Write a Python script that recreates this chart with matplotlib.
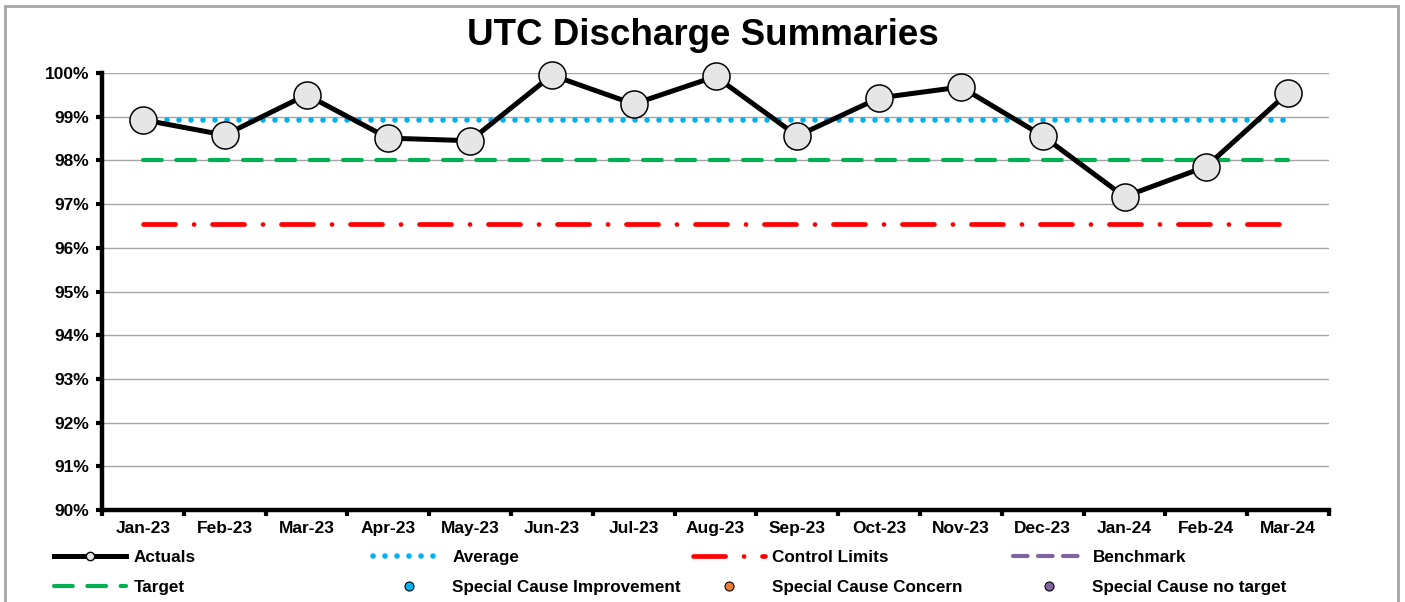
import numpy as np
import matplotlib
matplotlib.use("Agg")
import matplotlib.pyplot as plt
from matplotlib.lines import Line2D
from matplotlib.patches import Rectangle
from matplotlib.ticker import FixedLocator, FuncFormatter

plt.rcParams["font.family"] = ["Liberation Sans", "DejaVu Sans"]
plt.rcParams["font.weight"] = "bold"

# data
months = ["Jan-23", "Feb-23", "Mar-23", "Apr-23", "May-23", "Jun-23", "Jul-23",
          "Aug-23", "Sep-23", "Oct-23", "Nov-23", "Dec-23", "Jan-24", "Feb-24",
          "Mar-24"]
actuals = [98.93, 98.58, 99.50, 98.51, 98.45, 99.95, 99.29, 99.92, 98.56,
           99.43, 99.68, 98.56, 97.17, 97.86, 99.55]
average = 98.92
target = 98.0
lower_control = 96.54

W, H = 1405, 602
fig = plt.figure(figsize=(W / 100, H / 100), dpi=100)
ax = fig.add_axes([102 / W, 1 - 510 / H, (1329 - 102) / W, (510 - 73) / H])

x = np.arange(len(months))
n = len(months)

AVG_STYLE = dict(color="#00B0F0", linewidth=4.0, linestyle=(0, (0.01, 2.15)),
                 dash_capstyle="round")
TGT_STYLE = dict(color="#00B050", linewidth=3.0, linestyle=(0, (4.5, 3.5)),
                 dash_capstyle="round")
CL_STYLE = dict(color="#FF0000", linewidth=3.4,
                linestyle=(0, (6.8, 3.9, 0.01, 3.9)), dash_capstyle="round")

ax.plot(x, [average] * n, zorder=3, **AVG_STYLE)
ax.plot(x, [target] * n, zorder=3, **TGT_STYLE)
ax.plot(x, [lower_control] * n, zorder=3, **CL_STYLE)
ax.plot(x, actuals, color="black", linewidth=3.6, marker="o", markersize=19.5,
        markerfacecolor="#E6E6E6", markeredgecolor="black", markeredgewidth=1.1,
        zorder=4, clip_on=False)

ax.set_xlim(-0.5, n - 0.5)
ax.set_ylim(90, 100)
ax.set_yticks(np.arange(90, 101, 1))
ax.yaxis.set_major_formatter(FuncFormatter(lambda v, p: f"{v:.0f}%"))
ax.set_xticks(x)
ax.set_xticklabels(months)
ax.xaxis.set_minor_locator(FixedLocator(np.arange(-0.5, n, 1.0)))
ax.tick_params(axis="x", which="major", length=0, pad=8, labelsize=12.5)
ax.tick_params(axis="x", which="minor", length=4, width=3, direction="out")
ax.tick_params(axis="y", length=4, width=3, pad=5, labelsize=12.5)
for lab in ax.get_xticklabels() + ax.get_yticklabels():
    lab.set_fontweight("bold")

ax.grid(axis="y", color="#A6A6A6", linewidth=1.0)
ax.set_axisbelow(True)
for s in ["top", "right"]:
    ax.spines[s].set_visible(False)
ax.spines["left"].set_linewidth(3.2)
ax.spines["bottom"].set_linewidth(3.2)

fig.text(703 / W, 1 - 45 / H, "UTC Discharge Summaries", ha="center",
         va="baseline", fontsize=26.5, fontweight="bold")

# legend, laid out in four columns like the original
h_act = Line2D([], [], color="black", linewidth=3.6, marker="o", markersize=6,
               markerfacecolor="#E6E6E6", markeredgecolor="black", markeredgewidth=1)
h_avg = Line2D([], [], **AVG_STYLE)
h_cl = Line2D([], [], **CL_STYLE)
h_bm = Line2D([], [], color="#8064A2", linewidth=3.0, linestyle=(0, (3.5, 2.5)),
              dash_capstyle="round")
h_tgt = Line2D([], [], **TGT_STYLE)


def dot(c):
    return Line2D([], [], linestyle="none", marker="o", markersize=6.5,
                  markerfacecolor=c, markeredgecolor="black", markeredgewidth=0.8)


columns = [
    (54, [h_act, h_tgt], ["Actuals", "Target"]),
    (373, [h_avg, dot("#00B0F0")], ["Average", "Special Cause Improvement"]),
    (693, [h_cl, dot("#ED7D31")], ["Control Limits", "Special Cause Concern"]),
    (1013, [h_bm, dot("#8064A2")], ["Benchmark", "Special Cause no target"]),
]
for xpos, hs, ls in columns:
    fig.legend(hs, ls, loc="upper left", bbox_to_anchor=(xpos / W, 1 - 550 / H),
               frameon=False, borderpad=0, borderaxespad=0, handlelength=4.2,
               handletextpad=0.45, labelspacing=0.86,
               prop={"size": 12.3, "weight": "bold"})

fig.patches.append(Rectangle((5 / W, -0.1), (1398 - 5) / W, 1.1 - 6 / H,
                             transform=fig.transFigure, fill=False,
                             edgecolor="#A6A6A6", linewidth=2))

fig.savefig("out.png", dpi=100)
